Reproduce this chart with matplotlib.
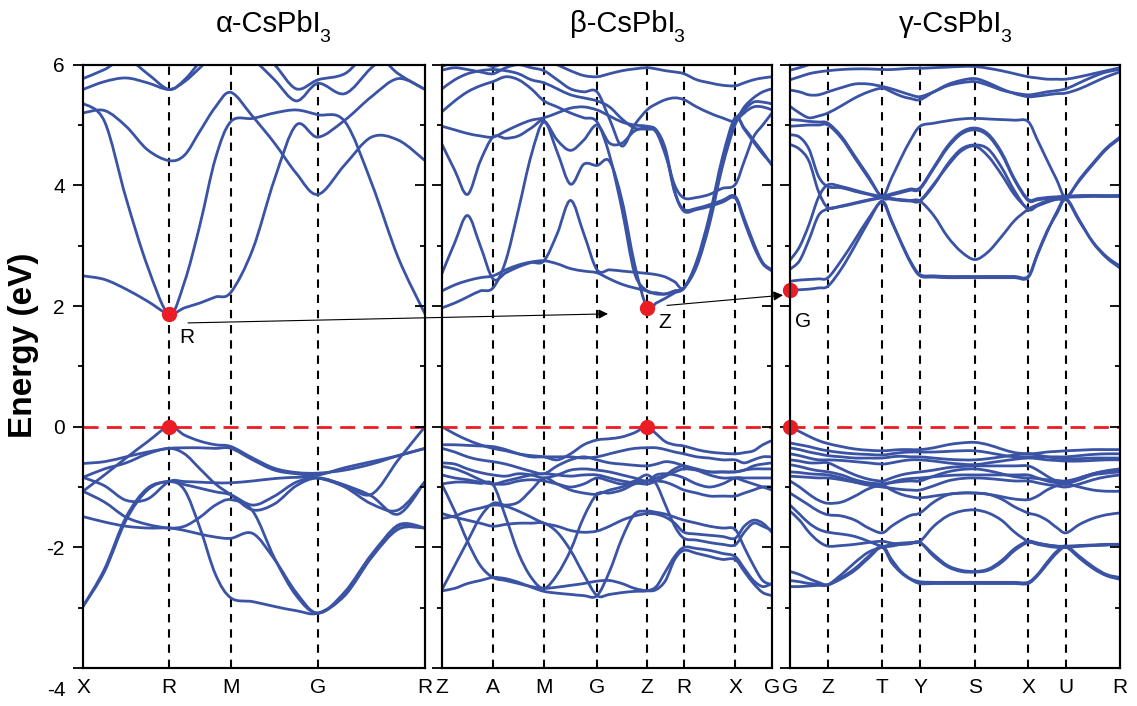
import numpy as np
import matplotlib
matplotlib.use("Agg")
import matplotlib.pyplot as plt
from matplotlib.path import Path
from matplotlib.patches import PathPatch, ConnectionPatch

plt.rcParams['font.family'] = ['Liberation Sans', 'DejaVu Sans']
plt.rcParams['axes.unicode_minus'] = False

# ---------------- data ----------------
title_main = ['α-CsPbI', 'β-CsPbI', 'γ-CsPbI']
title_sub = ['3', '3', '3']

alpha_kpos = [0.0, 0.86, 1.48, 2.35, 3.42]
alpha_klabels = ['X', 'R', 'M', 'G', 'R']
beta_kpos = [0.0, 0.51, 1.02, 1.55, 2.05, 2.42, 2.93, 3.30]
beta_klabels = ['Z', 'A', 'M', 'G', 'Z', 'R', 'X', 'G']
gamma_kpos = [0.0, 0.38, 0.92, 1.30, 1.85, 2.38, 2.76, 3.30]
gamma_klabels = ['G', 'Z', 'T', 'Y', 'S', 'X', 'U', 'R']

# energies (eV) read at 4 equal steps per path segment
alpha_cond = [
    [2.50, 2.44, 2.28, 2.08, 1.87, 1.97, 2.05, 2.15, 2.23, 2.94, 4.10, 5.00, 4.80, 5.08, 5.47, 5.77, 5.59],
    [5.36, 5.06, 3.79, 2.66, 1.87, 2.40, 3.35, 4.45, 5.06, 5.11, 5.20, 5.25, 5.17, 5.06, 4.04, 2.80, 1.87],
    [5.20, 5.24, 4.98, 4.59, 4.41, 4.50, 4.90, 5.30, 5.54, 5.14, 4.70, 4.20, 3.85, 4.34, 4.80, 4.75, 4.41],
    [5.59, 5.72, 5.78, 5.70, 5.59, 5.72, 5.95, 6.20, 6.40, 6.10, 5.75, 5.40, 5.69, 5.52, 5.95, 6.30, 6.50],
    [5.77, 5.92, 6.10, 5.85, 5.59, 5.75, 6.05, 6.35, 6.60, 6.30, 6.00, 5.60, 5.75, 5.85, 6.20, 5.85, 5.59],
]
alpha_val = [
    [-1.07, -0.80, -0.52, -0.25, 0.00, -0.14, -0.24, -0.30, -0.33, -0.52, -0.69, -0.76, -0.77, -0.72, -0.62, -0.48, -0.36],
    [-0.61, -0.58, -0.50, -0.42, -0.36, -0.35, -0.35, -0.36, -0.36, -0.55, -0.72, -0.78, -0.80, -0.68, -0.58, -0.48, -0.36],
    [-0.84, -0.70, -0.60, -0.45, -0.36, -0.45, -0.70, -0.95, -1.13, -1.38, -1.28, -0.98, -0.85, -0.97, -1.12, -0.55, 0.00],
    [-0.84, -0.98, -1.22, -1.20, -0.91, -0.91, -0.92, -0.93, -0.93, -0.90, -0.86, -0.84, -0.85, -1.00, -1.28, -1.38, -0.91],
    [-1.07, -1.25, -1.50, -1.62, -1.68, -1.65, -1.50, -1.30, -1.21, -1.40, -2.18, -2.80, -3.09, -2.78, -2.15, -1.63, -1.68],
    [-1.49, -1.58, -1.65, -1.68, -1.68, -1.72, -1.78, -1.83, -1.85, -1.77, -2.20, -2.75, -3.09, -2.74, -2.12, -1.65, -1.68],
    [-2.98, -2.40, -1.55, -1.05, -0.91, -1.05, -1.68, -2.45, -2.84, -2.90, -2.98, -3.05, -3.09, -2.80, -2.17, -1.70, -1.68],
    [-2.98, -2.36, -1.50, -1.02, -0.91, -0.96, -1.02, -1.08, -1.13, -1.30, -1.15, -0.92, -0.85, -0.97, -1.15, -1.45, -0.91],
]

beta_cond = [
    [1.97, 2.05, 2.15, 2.25, 2.30, 2.75, 3.60, 4.50, 5.05, 4.55, 4.02, 4.35, 4.33, 4.40, 3.75, 2.70, 1.97, 2.05, 2.13, 2.22, 2.30, 2.72, 3.45, 4.40, 5.10, 4.95, 4.75, 4.55, 4.33],
    [2.25, 2.35, 2.42, 2.47, 2.50, 2.60, 2.68, 2.73, 2.75, 2.70, 2.62, 2.58, 2.55, 2.45, 2.36, 2.30, 2.25, 2.20, 2.20, 2.25, 2.30, 2.66, 3.36, 4.30, 5.00, 5.20, 5.30, 5.30, 5.25],
    [2.54, 3.05, 3.50, 3.00, 2.45, 2.55, 2.65, 2.72, 2.75, 3.20, 3.75, 3.20, 2.60, 2.60, 2.58, 2.56, 2.54, 2.52, 2.48, 2.40, 2.30, 2.75, 3.50, 4.45, 5.12, 4.93, 4.72, 4.52, 4.35],
    [4.68, 4.25, 3.85, 4.40, 4.80, 4.78, 4.82, 4.95, 5.07, 4.75, 4.58, 4.75, 5.00, 4.70, 4.70, 4.90, 4.95, 4.88, 4.50, 4.00, 3.79, 3.80, 3.85, 3.95, 4.01, 4.40, 4.80, 5.00, 5.20],
    [4.98, 4.92, 4.86, 4.82, 4.80, 4.90, 5.00, 5.08, 5.12, 5.20, 5.28, 5.30, 5.25, 5.15, 5.05, 5.00, 4.98, 4.92, 4.60, 3.90, 3.57, 3.60, 3.65, 3.72, 3.79, 3.40, 3.00, 2.70, 2.58],
    [5.22, 5.40, 5.55, 5.65, 5.72, 5.80, 5.75, 5.60, 5.40, 5.30, 5.20, 5.12, 5.05, 4.50, 3.60, 2.55, 2.25, 2.22, 2.20, 2.25, 2.30, 2.70, 3.40, 4.35, 5.05, 5.25, 5.38, 5.38, 5.35],
    [5.91, 5.95, 5.92, 5.88, 5.85, 5.95, 6.00, 5.95, 5.90, 5.75, 5.60, 5.55, 5.55, 5.10, 4.65, 5.00, 5.25, 5.35, 5.42, 5.45, 5.42, 5.30, 5.20, 5.12, 5.07, 5.30, 5.45, 5.55, 5.60],
    [5.97, 6.05, 6.10, 6.05, 5.97, 6.05, 6.15, 6.15, 6.10, 6.00, 5.90, 5.82, 5.80, 5.85, 5.90, 5.93, 5.95, 5.93, 5.90, 5.88, 5.85, 5.75, 5.70, 5.66, 5.65, 5.70, 5.75, 5.78, 5.80],
    [5.60, 5.75, 5.85, 5.90, 5.92, 5.90, 5.85, 5.75, 5.70, 5.60, 5.50, 5.45, 5.40, 5.30, 5.10, 4.95, 4.93, 4.90, 4.55, 3.88, 3.60, 3.62, 3.68, 3.75, 3.82, 3.45, 3.05, 2.72, 2.60],
]
beta_val = [
    [0.00, -0.12, -0.22, -0.30, -0.36, -0.40, -0.45, -0.48, -0.50, -0.55, -0.45, -0.30, -0.22, -0.20, -0.17, -0.10, 0.00, -0.12, -0.25, -0.30, -0.32, -0.38, -0.42, -0.44, -0.45, -0.43, -0.40, -0.30, -0.23],
    [-0.30, -0.30, -0.31, -0.32, -0.33, -0.38, -0.45, -0.50, -0.50, -0.50, -0.50, -0.52, -0.50, -0.45, -0.40, -0.36, -0.35, -0.35, -0.38, -0.42, -0.45, -0.50, -0.52, -0.55, -0.55, -0.60, -0.55, -0.50, -0.50],
    [-0.36, -0.42, -0.50, -0.55, -0.58, -0.62, -0.68, -0.74, -0.78, -0.65, -0.55, -0.50, -0.55, -0.60, -0.62, -0.64, -0.65, -0.62, -0.58, -0.60, -0.65, -0.70, -0.75, -0.75, -0.75, -0.72, -0.70, -0.70, -0.70],
    [-0.60, -0.62, -0.70, -0.76, -0.80, -0.82, -0.78, -0.80, -0.85, -0.80, -0.72, -0.70, -0.72, -0.75, -0.80, -0.85, -0.90, -0.80, -0.78, -0.80, -0.85, -0.95, -1.00, -0.95, -0.85, -0.85, -0.85, -0.85, -0.85],
    [-0.66, -0.70, -0.78, -0.88, -0.95, -0.90, -0.85, -0.80, -0.78, -0.80, -0.82, -0.80, -0.80, -0.85, -0.90, -0.93, -0.95, -0.90, -0.82, -0.75, -0.70, -0.72, -0.75, -0.75, -0.75, -0.72, -0.65, -0.62, -0.60],
    [-0.80, -0.85, -0.88, -0.92, -0.95, -0.95, -0.90, -0.88, -0.90, -0.95, -1.00, -0.95, -0.85, -0.90, -0.95, -0.90, -0.80, -0.95, -1.30, -1.65, -1.85, -1.88, -1.92, -1.95, -1.96, -1.75, -1.60, -1.65, -1.72],
    [-0.96, -1.40, -1.90, -2.30, -2.50, -2.55, -2.60, -2.65, -2.68, -2.66, -2.63, -2.60, -2.56, -2.55, -2.60, -2.68, -2.72, -2.70, -2.55, -2.20, -2.05, -2.10, -2.15, -2.20, -2.20, -2.40, -2.60, -2.75, -2.80],
    [-2.70, -2.30, -1.90, -1.50, -1.27, -1.30, -1.25, -1.05, -0.85, -0.95, -1.05, -1.10, -1.12, -1.05, -1.00, -0.92, -0.90, -0.85, -0.80, -0.70, -0.65, -0.72, -0.80, -0.85, -0.85, -0.90, -0.95, -1.00, -1.05],
    [-1.44, -1.50, -1.55, -1.60, -1.65, -1.62, -1.60, -1.60, -1.60, -1.75, -2.05, -2.45, -2.80, -2.78, -2.75, -2.73, -2.72, -2.65, -2.40, -2.15, -2.00, -2.02, -2.05, -2.10, -2.15, -2.35, -2.55, -2.65, -2.60],
    [-0.95, -0.92, -0.92, -0.94, -0.96, -1.50, -2.10, -2.50, -2.68, -2.45, -2.05, -1.50, -1.12, -1.10, -1.05, -0.95, -0.90, -0.90, -0.92, -0.98, -1.05, -1.10, -1.15, -1.15, -1.15, -1.10, -1.05, -1.00, -1.00],
    [-1.52, -1.48, -1.40, -1.35, -1.30, -1.32, -1.40, -1.50, -1.60, -1.65, -1.72, -1.75, -1.73, -1.65, -1.55, -1.48, -1.44, -1.45, -1.50, -1.60, -1.75, -1.78, -1.80, -1.82, -1.85, -1.65, -1.55, -1.60, -1.75],
    [-2.72, -2.68, -2.60, -2.55, -2.50, -2.52, -2.58, -2.66, -2.73, -2.76, -2.78, -2.80, -2.80, -2.40, -1.85, -1.45, -1.40, -1.42, -1.45, -1.50, -1.55, -1.60, -1.65, -1.68, -1.70, -2.00, -2.30, -2.55, -2.62],
]

gamma_cond = [
    [2.26, 2.27, 2.28, 2.30, 2.33, 2.62, 3.00, 3.40, 3.74, 3.42, 3.05, 2.72, 2.50, 2.48, 2.47, 2.47, 2.47, 2.47, 2.47, 2.47, 2.47, 2.85, 3.22, 3.55, 3.78, 3.42, 3.05, 2.80, 2.63],
    [2.41, 2.43, 2.44, 2.45, 2.47, 2.76, 3.10, 3.45, 3.72, 3.40, 3.06, 2.74, 2.52, 2.50, 2.49, 2.49, 2.49, 2.49, 2.49, 2.49, 2.49, 2.87, 3.24, 3.52, 3.76, 3.40, 3.06, 2.82, 2.66],
    [2.61, 2.75, 3.10, 3.50, 3.61, 3.65, 3.70, 3.75, 3.79, 3.77, 3.75, 3.74, 3.74, 4.00, 4.35, 4.60, 4.67, 4.60, 4.30, 3.90, 3.60, 3.66, 3.72, 3.77, 3.80, 3.81, 3.82, 3.82, 3.82],
    [2.76, 2.98, 3.35, 3.80, 4.01, 3.98, 3.92, 3.86, 3.82, 3.86, 3.90, 3.94, 3.96, 4.30, 4.65, 4.88, 4.95, 4.85, 4.55, 4.10, 3.77, 3.78, 3.80, 3.81, 3.82, 3.83, 3.83, 3.82, 3.82],
    [5.09, 5.08, 5.06, 5.05, 5.03, 4.81, 4.48, 4.15, 3.82, 4.12, 4.45, 4.75, 4.98, 5.03, 5.07, 5.10, 5.11, 5.10, 5.09, 5.08, 5.06, 4.75, 4.42, 4.10, 3.80, 4.10, 4.37, 4.62, 4.80],
    [4.98, 4.99, 5.00, 5.00, 5.00, 4.78, 4.45, 4.12, 3.80, 3.78, 3.76, 3.75, 3.74, 3.50, 3.15, 2.90, 2.77, 2.90, 3.15, 3.42, 3.60, 3.68, 3.74, 3.77, 3.79, 4.08, 4.35, 4.60, 4.78],
    [4.84, 4.80, 4.60, 4.15, 3.98, 3.96, 3.90, 3.85, 3.80, 3.84, 3.88, 3.92, 3.94, 4.28, 4.62, 4.85, 4.92, 4.82, 4.52, 4.08, 3.75, 3.76, 3.78, 3.80, 3.81, 3.82, 3.82, 3.82, 3.83],
    [4.68, 4.60, 4.40, 3.90, 3.63, 3.66, 3.71, 3.76, 3.80, 3.78, 3.76, 3.75, 3.75, 4.02, 4.32, 4.57, 4.65, 4.48, 4.18, 3.84, 3.62, 3.67, 3.73, 3.78, 3.81, 3.82, 3.83, 3.83, 3.83],
    [5.31, 5.20, 5.12, 5.15, 5.20, 5.32, 5.45, 5.55, 5.61, 5.55, 5.48, 5.44, 5.42, 5.55, 5.67, 5.74, 5.77, 5.70, 5.60, 5.52, 5.47, 5.48, 5.50, 5.52, 5.53, 5.60, 5.70, 5.80, 5.88],
    [5.58, 5.55, 5.50, 5.50, 5.55, 5.62, 5.68, 5.68, 5.64, 5.60, 5.55, 5.50, 5.47, 5.55, 5.65, 5.70, 5.72, 5.66, 5.58, 5.53, 5.50, 5.52, 5.55, 5.57, 5.60, 5.70, 5.80, 5.88, 5.92],
    [5.75, 5.80, 5.85, 5.88, 5.90, 5.92, 5.93, 5.93, 5.92, 5.92, 5.93, 5.94, 5.94, 5.95, 5.96, 5.97, 5.97, 5.94, 5.90, 5.85, 5.80, 5.78, 5.76, 5.76, 5.76, 5.80, 5.85, 5.90, 5.95],
    [5.91, 5.95, 6.00, 6.05, 6.10, 6.10, 6.10, 6.10, 6.10, 6.10, 6.10, 6.10, 6.10, 6.10, 6.10, 6.10, 6.10, 6.10, 6.10, 6.10, 6.10, 6.10, 6.10, 6.10, 6.10, 6.10, 6.10, 6.10, 6.10],
]
gamma_val = [
    [0.00, -0.08, -0.16, -0.23, -0.28, -0.33, -0.37, -0.39, -0.40, -0.39, -0.38, -0.38, -0.38, -0.35, -0.30, -0.27, -0.26, -0.30, -0.37, -0.43, -0.45, -0.44, -0.42, -0.41, -0.40, -0.39, -0.38, -0.38, -0.38],
    [-0.27, -0.30, -0.33, -0.37, -0.40, -0.43, -0.45, -0.46, -0.47, -0.45, -0.43, -0.42, -0.42, -0.42, -0.41, -0.40, -0.40, -0.43, -0.47, -0.50, -0.50, -0.50, -0.50, -0.50, -0.50, -0.48, -0.46, -0.45, -0.45],
    [-0.35, -0.38, -0.42, -0.45, -0.48, -0.50, -0.52, -0.52, -0.52, -0.50, -0.49, -0.50, -0.50, -0.52, -0.54, -0.55, -0.55, -0.53, -0.50, -0.47, -0.45, -0.47, -0.50, -0.52, -0.53, -0.53, -0.52, -0.52, -0.52],
    [-0.45, -0.48, -0.52, -0.55, -0.55, -0.56, -0.58, -0.60, -0.62, -0.60, -0.57, -0.55, -0.55, -0.57, -0.60, -0.62, -0.63, -0.60, -0.57, -0.54, -0.52, -0.53, -0.55, -0.56, -0.57, -0.57, -0.56, -0.55, -0.55],
    [-0.55, -0.57, -0.60, -0.60, -0.60, -0.70, -0.80, -0.87, -0.90, -0.85, -0.80, -0.77, -0.75, -0.72, -0.68, -0.66, -0.65, -0.65, -0.65, -0.65, -0.65, -0.72, -0.82, -0.90, -0.93, -0.85, -0.78, -0.73, -0.70],
    [-0.63, -0.66, -0.70, -0.73, -0.75, -0.80, -0.88, -0.93, -0.95, -0.92, -0.88, -0.86, -0.85, -0.83, -0.81, -0.80, -0.80, -0.80, -0.80, -0.80, -0.80, -0.85, -0.90, -0.93, -0.95, -0.88, -0.80, -0.77, -0.75],
    [-0.75, -0.76, -0.78, -0.79, -0.80, -0.85, -0.92, -0.97, -1.00, -1.02, -1.04, -1.05, -1.05, -0.98, -0.90, -0.86, -0.85, -0.86, -0.88, -0.90, -0.90, -0.93, -0.96, -0.98, -1.00, -0.95, -0.88, -0.83, -0.80],
    [-0.82, -0.83, -0.84, -0.85, -0.85, -0.88, -0.92, -0.94, -0.95, -0.93, -0.91, -0.90, -0.90, -0.82, -0.75, -0.71, -0.70, -0.73, -0.78, -0.83, -0.85, -0.86, -0.88, -0.89, -0.90, -0.85, -0.78, -0.74, -0.72],
    [-0.90, -1.00, -1.12, -1.22, -1.27, -1.25, -1.15, -1.03, -0.97, -1.05, -1.12, -1.16, -1.18, -1.15, -1.12, -1.10, -1.10, -1.12, -1.16, -1.20, -1.21, -1.15, -1.05, -0.98, -0.95, -1.00, -1.05, -1.07, -1.07],
    [-1.10, -1.20, -1.30, -1.40, -1.46, -1.48, -1.55, -1.68, -1.76, -1.65, -1.55, -1.47, -1.43, -1.25, -1.13, -1.10, -1.10, -1.12, -1.20, -1.33, -1.43, -1.47, -1.55, -1.67, -1.76, -1.62, -1.52, -1.46, -1.43],
    [-1.30, -1.45, -1.60, -1.70, -1.75, -1.78, -1.82, -1.90, -1.98, -1.95, -1.93, -1.92, -1.90, -1.65, -1.48, -1.40, -1.38, -1.43, -1.55, -1.75, -1.90, -1.93, -1.96, -1.98, -1.98, -1.97, -1.96, -1.95, -1.95],
    [-1.40, -1.55, -1.75, -1.90, -1.98, -1.97, -1.95, -1.92, -1.90, -1.93, -1.95, -1.94, -1.92, -2.15, -2.32, -2.40, -2.41, -2.38, -2.25, -2.05, -1.92, -1.95, -1.98, -2.00, -2.00, -1.98, -1.97, -1.96, -1.95],
    [-2.40, -2.45, -2.52, -2.58, -2.62, -2.50, -2.35, -2.15, -1.98, -2.20, -2.40, -2.52, -2.57, -2.58, -2.58, -2.58, -2.58, -2.58, -2.58, -2.58, -2.58, -2.45, -2.25, -2.07, -1.98, -2.15, -2.32, -2.45, -2.50],
    [-2.55, -2.57, -2.60, -2.61, -2.62, -2.52, -2.38, -2.18, -2.00, -2.25, -2.42, -2.53, -2.60, -2.60, -2.60, -2.60, -2.60, -2.60, -2.60, -2.60, -2.60, -2.47, -2.28, -2.10, -2.00, -2.18, -2.35, -2.47, -2.53],
    [-2.65, -2.65, -2.64, -2.63, -2.62, -2.45, -2.25, -2.08, -2.00, -1.98, -1.95, -1.93, -1.92, -2.12, -2.30, -2.38, -2.40, -2.36, -2.22, -2.02, -1.90, -1.93, -1.96, -1.98, -2.00, -1.98, -1.97, -1.96, -1.95],
]

# band edges marked with red dots: (k, E) per panel
alpha_edges = [(0.86, 1.87), (0.86, 0.0)]
beta_edges = [(2.05, 1.97), (2.05, 0.0)]
gamma_edges = [(0.0, 2.26), (0.0, 0.0)]
edge_labels = [('R', 1.04, 1.48), ('Z', 2.23, 1.73), ('G', 0.13, 1.75)]

# ---------------- drawing ----------------
BLUE = '#3a53a4'
RED = '#ec1c24'


def kgrid(kpos, steps=4):
    pts = [kpos[0]]
    for a, b in zip(kpos[:-1], kpos[1:]):
        pts.extend(list(np.linspace(a, b, steps + 1)[1:]))
    return np.array(pts)


def smooth_path(x, y):
    p = np.column_stack([x, y])
    n = len(p)
    verts = [p[0]]
    codes = [Path.MOVETO]
    for i in range(n - 1):
        p0 = p[max(i - 1, 0)]
        p1 = p[i]
        p2 = p[i + 1]
        p3 = p[min(i + 2, n - 1)]
        verts += [p1 + (p2 - p0) / 6.0, p2 - (p3 - p1) / 6.0, p2]
        codes += [Path.CURVE4] * 3
    return Path(verts, codes)


W, H = 1137, 706
fig = plt.figure(figsize=(W / 100, H / 100), dpi=100)

bottom = 1 - 668 / H
height = (668 - 64.7) / H
axes_px = [(83, 342), (442, 330), (790, 330)]

panels = [
    (alpha_kpos, alpha_klabels, alpha_cond + alpha_val, alpha_edges),
    (beta_kpos, beta_klabels, beta_cond + beta_val, beta_edges),
    (gamma_kpos, gamma_klabels, gamma_cond + gamma_val, gamma_edges),
]
title_right = [321, 675, 1002]

axes = []
for i, ((kpos, klab, bands, edges), (x0, w)) in enumerate(zip(panels, axes_px)):
    ax = fig.add_axes([x0 / W, bottom, w / W, height])
    axes.append(ax)
    kx = kgrid(kpos)
    for band in bands:
        patch = PathPatch(smooth_path(kx, np.array(band)), facecolor='none',
                          edgecolor=BLUE, lw=2.0, capstyle='round', joinstyle='round', zorder=3)
        ax.add_patch(patch)
    for k in kpos[1:-1]:
        ax.axvline(k, color='black', lw=1.5, linestyle=(0, (4, 3.3)), zorder=2)
    ax.axhline(0, color=RED, lw=2.0, linestyle=(0, (5.4, 3.0)), zorder=4)
    for (kk, ee) in edges:
        ax.plot([kk], [ee], 'o', color=RED, ms=10, zorder=6, clip_on=False)
    ax.set_xlim(kpos[0], kpos[-1])
    ax.set_ylim(-4, 6)
    ax.set_xticks(kpos)
    ax.set_xticklabels(klab)
    ax.tick_params(axis='x', length=0, pad=7, labelsize=15)
    ax.set_yticks([-4, -2, 0, 2, 4, 6])
    ax.set_yticks([-3, -1, 1, 3, 5], minor=True)
    ax.tick_params(axis='y', which='major', direction='out', length=7, width=1.3, pad=6, labelsize=15)
    ax.tick_params(axis='y', which='minor', direction='out', length=3.5, width=1.3)
    if i == 0:
        ax.set_yticklabels(['', '-2', '0', '2', '4', '6'])
    else:
        ax.set_yticklabels([])
    for s in ax.spines.values():
        s.set_linewidth(1.5)
    # right-hand inward ticks
    axr = ax.twinx()
    axr.set_ylim(-4, 6)
    axr.set_yticks([-4, -2, 0, 2, 4, 6])
    axr.set_yticks([-3, -1, 1, 3, 5], minor=True)
    axr.tick_params(axis='y', which='major', direction='in', length=7, width=1.3, labelright=False)
    axr.tick_params(axis='y', which='minor', direction='in', length=3.5, width=1.3)
    for s in axr.spines.values():
        s.set_linewidth(1.5)
    # panel title with subscript
    fig.text(title_right[i] / W, 1 - 24 / H, title_main[i], ha='right', va='center',
             fontsize=21)
    fig.text((title_right[i] - 2) / W, 1 - 38 / H, title_sub[i], ha='left', va='center',
             fontsize=14)

for ax, (lab, kx_, ey) in zip(axes, edge_labels):
    ax.text(kx_, ey, lab, ha='center', va='center', fontsize=15, zorder=7)

# transition arrows between panels
arr1 = ConnectionPatch(xyA=(1.05, 1.72), coordsA=axes[0].transData,
                       xyB=(1.66, 1.87), coordsB=axes[1].transData,
                       arrowstyle='-|>', color='black', lw=0.8, mutation_scale=14, zorder=8)
fig.add_artist(arr1)
arr2 = ConnectionPatch(xyA=(2.25, 2.01), coordsA=axes[1].transData,
                       xyB=(-0.07, 2.18), coordsB=axes[2].transData,
                       arrowstyle='-|>', color='black', lw=0.8, mutation_scale=14, zorder=8)
fig.add_artist(arr2)

fig.text(24 / W, 1 - 345 / H, 'Energy (eV)', rotation=90, ha='center', va='center',
         fontsize=24, fontweight='bold')
fig.text(66 / W, 1 - 690 / H, '-4', ha='right', va='center', fontsize=15)

fig.savefig('out.png', dpi=100)
